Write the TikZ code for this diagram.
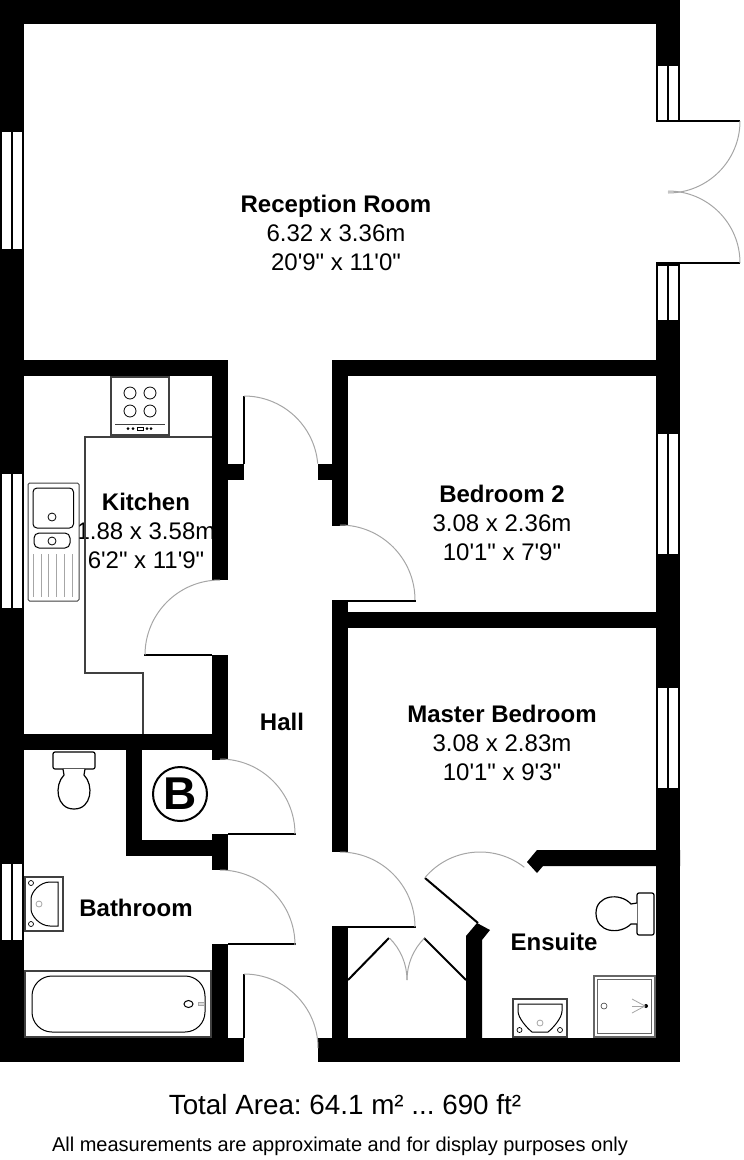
\documentclass[tikz,border=0pt]{standalone}
\usepackage{fontspec}
\usepackage{xcolor}
\newfontfamily\planfont{Liberation Sans}
\definecolor{swinggrey}{HTML}{A6A6A6}
\definecolor{fitdark}{HTML}{404040}
\definecolor{fitgrey}{HTML}{666666}
\tikzset{
	wall/.style={fill=black,draw=none},
	pane/.style={fill=white,draw=none},
	leaf/.style={draw=black,line width=2pt},
	swing/.style={draw=swinggrey,line width=1pt},
	fitting/.style={draw=black,line width=1pt,fill=white},
	fitbox/.style={draw=fitdark,line width=1.5pt,fill=white},
	fitthin/.style={draw=swinggrey,line width=0.8pt},
	roomlabel/.style={font=\planfont\fontsize{24}{29}\selectfont,align=center,inner sep=0pt}
}
\begin{document}
\frenchspacing
\begin{tikzpicture}[x=1pt,y=1pt,yscale=-1]
	\useasboundingbox (0,0) rectangle (744,1160);

	% labels
	\node[roomlabel] (reception) at (336,233) {\textbf{Reception Room}\\6.32 x 3.36m\\20'9" x 11'0"};
	\node[roomlabel] (bedtwo) at (502,523) {\textbf{Bedroom 2}\\3.08 x 2.36m\\10'1" x 7'9"};
	\node[roomlabel] (master) at (502,743) {\textbf{Master Bedroom}\\3.08 x 2.83m\\10'1" x 9'3"};
	\node[roomlabel] (kitchen) at (146,531) {\textbf{Kitchen}\\1.88 x 3.58m\\6'2" x 11'9"};
	\node[roomlabel] (hall) at (282,722) {\textbf{Hall}};
	\node[roomlabel] (bathroom) at (136,908) {\textbf{Bathroom}};
	\node[roomlabel] (ensuite) at (554,942) {\textbf{Ensuite}};
	\node[inner sep=0pt,font=\planfont\fontsize{27.8}{32}\selectfont] (total) at (345,1105) {Total Area: 64.1 m² ... 690 ft²};
	\node[inner sep=0pt,font=\planfont\fontsize{20}{24}\selectfont] (note) at (340,1146) {All measurements are approximate and for display purposes only};

	% walls
	\foreach \xa/\ya/\xb/\yb in {0/0/680/24,0/0/24/1062,656/0/680/121,656/263/680/1062,
		0/1038/244/1062,318/1038/680/1062,0/360/228/376,332/360/680/376,
		212/360/228/580,228/464/244/480,318/464/332/480,332/360/348/526,
		332/600/348/852,332/612/680/628,332/926/348/1062,
		212/655/228/760,0/734/228/750,126/750/142/856,126/840/228/856,
		212/834/228/870,212/944/228/1038}
		\fill[wall] (\xa,\ya) rectangle (\xb,\yb);
	\fill[wall] (466,1040) -- (466,936) -- (477,923) -- (490,930) -- (482,940) -- (482,1040) -- cycle;
	\fill[wall] (527,862) -- (537,850) -- (680,850) -- (680,866) -- (543,866) -- (537,873) -- cycle;

	% windows
	\foreach \xa/\ya/\yb in {2/132/249,13/132/249,2/474/608,13/474/608,2/864/940,13/864/940,
		658/66/120,669/66/120,658/266/320,669/266/320,658/434/554,669/434/554,658/688/788,669/688/788}
		\fill[pane] (\xa,\ya) rectangle ++(9,\yb-\ya);

	% door leaves
	\draw[leaf] (244,396) -- (244,464);
	\draw[leaf] (348,601) -- (416,601);
	\draw[leaf] (144,655) -- (212,655);
	\draw[leaf] (228,834) -- (296,834);
	\draw[leaf] (228,944) -- (296,944);
	\draw[leaf] (244,974) -- (244,1038);
	\draw[leaf] (348,927) -- (416,927);
	\draw[leaf] (425,878) -- (478,923);
	\draw[leaf] (348,980) -- (389,938);
	\draw[leaf] (466,980) -- (424,938);
	\draw[leaf] (656,121) -- (740,121);
	\draw[leaf] (656,263) -- (740,263);

	% door swings
	\foreach \cx/\cy/\rad/\sa/\ea in {244/470/74/-90/-5,340/600/75/-90/0,220/655/75/-90/-180,
		220/834/75/-90/0,220/945/75/-90/0,244/1048/74/-90/0,340/927/75/-90/0,
		480/924/72/-140/-52,348/980/59/-45/0,466/980/59/-135/-180,
		668/121/72/0/90,668/263/72/0/-90}
		\draw[swing] (\cx,\cy) ++(\sa:\rad) arc[start angle=\sa,end angle=\ea,radius=\rad];

	% kitchen units
	\draw[draw=fitdark,line width=1.2pt] (212,437) -- (85,437) -- (85,673) -- (143,673) -- (143,734);
	\draw[fitbox] (111,377) rectangle (169,435);
	\foreach \px/\py in {130/393,150/393,130/411,150/411}
		\draw[fitting,line width=0.8pt] (\px,\py) circle (6);
	\draw[draw=fitdark,line width=0.8pt] (115,424) -- (165,424);
	\foreach \px in {128,133,147,151}
		\fill (\px,428.5) circle (1.5);
	\draw[line width=0.5pt] (137.5,427) rectangle (143,430);
	\draw[draw=fitdark,line width=1pt,rounded corners=1.5pt,fill=white] (28,483) rectangle (79,601);
	\draw[fitting,rounded corners=4pt] (33,488) rectangle (73.5,528);
	\draw[fitting,rounded corners=5pt] (34,533) rectangle (70,548);
	\draw[fitting,line width=0.8pt] (52,517) circle (4);
	\draw[fitting,line width=0.8pt] (52,541) circle (4);
	\foreach \px in {33,41,48,56,64,72}
		\draw[fitthin] (\px,554) -- (\px,597);

	% bathroom fittings
	\draw[fitting,rounded corners=2pt,line width=1.2pt] (53,752) rectangle (95,769);
	\draw[fitting,line width=1.2pt] (63,769) -- (64,775) .. controls (54,785) and (56,809) .. (74,809)
		.. controls (92,809) and (94,785) .. (84,775) -- (85,769);
	\draw[fitbox] (25,877) rectangle (63,931);
	\draw[fitting,line width=1pt] (58,882) -- (58,926) -- (50,926) .. controls (40,926) and (31,916) .. (31,909)
		-- (31,899) .. controls (31,892) and (40,882) .. (50,882) -- cycle;
	\draw[fitting,line width=0.7pt] (31,883) circle (2.5);
	\draw[fitting,line width=0.7pt] (31,924) circle (2.5);
	\draw[fitthin] (39,904) circle (3);
	\draw[fitbox] (25,971) rectangle (211,1037);
	\draw[fitting,rounded corners=20pt] (32,976) rectangle (205,1032);
	\draw[fitting] (188.5,1004) ellipse (4.5 and 3.5);
	\draw[fitthin,fill=swinggrey!40] (198,1002.5) rectangle (204,1005);
	\draw[line width=2pt] (180,794) circle (27);
	\node[inner sep=0pt,font=\planfont\bfseries\fontsize{46}{46}\selectfont] (boiler) at (180,794) {B};

	% ensuite fittings
	\draw[fitting,rounded corners=2pt,line width=1.2pt] (637,893) rectangle (654,935);
	\draw[fitting,line width=1.2pt] (637,903) -- (631,904) .. controls (620,892) and (596,895) .. (596,913)
		.. controls (596,933) and (620,935) .. (631,924) -- (637,924);
	\draw[fitbox] (513,999) rectangle (567,1037);
	\draw[fitting,line width=1pt] (518,1004) -- (562,1004) -- (562,1011) .. controls (562,1018) and (553,1028) .. (548,1032)
		-- (532,1032) .. controls (527,1028) and (518,1018) .. (518,1011) -- cycle;
	\draw[fitting,line width=0.7pt] (519.5,1030) circle (2.5);
	\draw[fitting,line width=0.7pt] (560,1030) circle (2.5);
	\draw[fitthin] (540,1023) circle (3);
	\draw[draw=fitgrey,line width=2pt,fill=white] (594,976) rectangle (655,1037);
	\draw[draw=fitgrey,line width=1pt] (597.5,979.5) rectangle (651,1033);
	\draw[draw=fitdark,line width=0.6pt] (604,1006) circle (3);
	\fill (646,1006) circle (2);
	\draw[fitthin] (632,999) -- (645,1006) -- (632,1013);
	\draw[fitthin] (632,1006) -- (645,1006);
\end{tikzpicture}
\end{document}
